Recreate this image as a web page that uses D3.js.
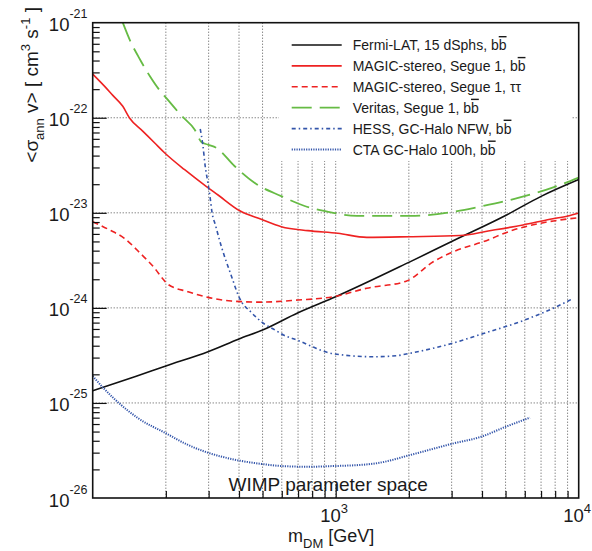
<!DOCTYPE html>
<html><head><meta charset="utf-8">
<script src="https://cdn.jsdelivr.net/npm/d3@7"></script>
<style>
html,body{margin:0;padding:0;background:#fff;}
svg{display:block;}
text{font-family:"Liberation Sans",Arial,Helvetica,sans-serif;fill:#1a1a1a;}
</style></head>
<body>
<svg id="c" width="592" height="551"></svg>
<script>
// ---- data ----
const fermiMass  = [100,150,200,300,400,500,700,1000,2000,3000,5000,7000,10000];
const fermiSigma = [1.34e-25,1.90e-25,2.45e-25,3.48e-25,4.71e-25,5.85e-25,8.9e-25,1.31e-24,3.01e-24,4.99e-24,9.37e-24,1.49e-23,2.24e-23];

const magicBbMass  = [100,112,121,133,142,161,180,198,239,293,328,403,494,597,769,1021,1342,2023,3250,4240,5900,7620,9040,10000];
const magicBbSigma = [2.88e-22,2.14e-22,1.72e-22,1.32e-22,9.9e-23,7.2e-23,5.42e-23,4.26e-23,2.84e-23,1.90e-23,1.54e-23,1.05e-23,8.55e-24,7.15e-24,6.49e-24,6.09e-24,5.52e-24,5.61e-24,5.77e-24,6.44e-24,7.45e-24,8.55e-24,9.27e-24,9.95e-24];

const magicTauMass  = [100,116,135,158,180,195,204,247,298,372,494,700,977,1342,1960,2520,3050,4050,5380,7150,10000];
const magicTauSigma = [8.07e-24,6.71e-24,5.39e-24,3.69e-24,2.61e-24,2.00e-24,1.77e-24,1.48e-24,1.29e-24,1.18e-24,1.15e-24,1.21e-24,1.31e-24,1.61e-24,1.92e-24,3.06e-24,3.90e-24,4.97e-24,6.59e-24,7.87e-24,8.89e-24];

const veritasMass  = [133,144,154,158,172,189,201,232,263,280,298,323,384,471,597,745,977,1220,2023,2950,4050,5730,7860,10000];
const veritasSigma = [1.0e-21,6.11e-22,4.43e-22,3.93e-22,2.73e-22,1.93e-22,1.61e-22,1.05e-22,7.49e-23,5.56e-23,5.21e-23,4.81e-23,3.09e-23,2.01e-23,1.50e-23,1.18e-23,1.00e-23,9.27e-24,9.27e-24,1.01e-23,1.18e-23,1.45e-23,1.85e-23,2.35e-23];

const hessMass  = [277,284,290,298,304,310,319,337,373,400,452,504,563,609,700,809,873,994,1430,1780,2020,2950,4050,6110,8110,9500];
const hessSigma = [7.62e-23,5.17e-23,3.18e-23,2.06e-23,1.47e-23,9.95e-24,7.63e-24,4.59e-24,2.13e-24,1.30e-24,8.83e-25,6.89e-25,5.85e-25,5.19e-25,4.54e-25,3.87e-25,3.56e-25,3.27e-25,3.06e-25,3.14e-25,3.33e-25,4.17e-25,5.37e-25,7.59e-25,1.03e-24,1.26e-24];

const ctaMass  = [100,112,131,154,200,247,298,403,497,597,769,990,1110,1520,2023,2950,4050,4900,6300];
const ctaSigma = [1.92e-25,1.39e-25,9.5e-26,6.89e-26,4.80e-26,3.61e-26,3.00e-26,2.47e-26,2.28e-26,2.17e-26,2.13e-26,2.17e-26,2.19e-26,2.35e-26,2.83e-26,3.67e-26,4.49e-26,5.49e-26,7.00e-26];

const seriesNames = ["Fermi-LAT, 15 dSphs, ", "MAGIC-stereo, Segue 1, ", "MAGIC-stereo, Segue 1, ", "Veritas, Segue 1, ", "HESS, GC-Halo NFW, ", "CTA GC-Halo 100h, "];
const seriesChannel = ["bb","bb","ττ","bb","bb","bb"];
const xDecades = [100,1000,10000];
const yDecades = [1e-26,1e-25,1e-24,1e-23,1e-22,1e-21];
const xTickLabelExp = ["3","4"];
const yTickLabelExp = ["-26","-25","-24","-23","-22","-21"];

// ---- layout ----
const L=92.7, R=578.7, T=22.7, B=498;
const svg = d3.select("#c");
const x = d3.scaleLog().domain([100,1e4]).range([L,R]);
const y = d3.scaleLog().domain([1e-26,1e-21]).range([B,T]);

const xMinor=[], yMinor=[];
[100,1000].forEach(d=>{for(let k=2;k<=9;k++) xMinor.push(k*d);});
[1e-26,1e-25,1e-24,1e-23,1e-22].forEach(d=>{for(let k=2;k<=9;k++) yMinor.push(k*d);});

svg.append("defs").append("clipPath").attr("id","clip")
  .append("rect").attr("x",L).attr("y",T).attr("width",R-L).attr("height",B-T);

// grid
const grid = svg.append("g").attr("stroke","#555").attr("stroke-width",1).attr("stroke-dasharray","1,2");
xMinor.concat([1000]).forEach(v=>{
  grid.append("line").attr("x1",x(v)).attr("x2",x(v)).attr("y1",T).attr("y2",B);
});
[1e-25,1e-24,1e-23,1e-22].forEach(v=>{
  grid.append("line").attr("x1",L).attr("x2",R).attr("y1",y(v)).attr("y2",y(v));
});

// legend background (covers grid)
const legX=279, legY=23, legW=292, legH=138;
svg.append("rect").attr("x",legX).attr("y",legY).attr("width",legW).attr("height",legH).attr("fill","#fff");

// curves
const styles = [
  {c:"#111111", w:1.6, d:null},
  {c:"#ee2222", w:1.6, d:null},
  {c:"#ee2222", w:1.6, d:"6,4"},
  {c:"#66bb44", w:1.8, d:"20,8"},
  {c:"#3355aa", w:1.6, d:"4,3,1.5,3"},
  {c:"#3355aa", w:2.0, d:"1.2,1.2"}
];
const sets = [[fermiMass,fermiSigma],[magicBbMass,magicBbSigma],[magicTauMass,magicTauSigma],[veritasMass,veritasSigma],[hessMass,hessSigma],[ctaMass,ctaSigma]];
const line = d3.line().x(d=>x(d[0])).y(d=>y(d[1])).curve(d3.curveMonotoneX);
const cg = svg.append("g").attr("clip-path","url(#clip)");
sets.forEach((s,i)=>{
  const pts = s[0].map((m,j)=>[m,s[1][j]]);
  cg.append("path").attr("d",line(pts)).attr("fill","none")
    .attr("stroke",styles[i].c).attr("stroke-width",styles[i].w)
    .attr("stroke-dasharray",styles[i].d).attr("stroke-linejoin","round");
});

// axes ticks (inward)
function tickAxis(gen, vals, size){
  return gen.tickValues(vals).tickSize(size).tickFormat("");
}
const axG = svg.append("g");
axG.append("g").attr("transform",`translate(0,${B})`).call(tickAxis(d3.axisBottom(x),xMinor,-7));
axG.append("g").attr("transform",`translate(0,${B})`).call(tickAxis(d3.axisBottom(x),[1000],-14));
axG.append("g").attr("transform",`translate(${L},0)`).call(tickAxis(d3.axisLeft(y),yMinor,-7));
axG.append("g").attr("transform",`translate(${L},0)`).call(tickAxis(d3.axisLeft(y),yDecades.slice(1,5),-14));
axG.selectAll(".domain").remove();
axG.selectAll(".tick line").attr("stroke","#111").attr("stroke-width",1.2);

// frame
svg.append("rect").attr("x",L).attr("y",T).attr("width",R-L).attr("height",B-T)
  .attr("fill","none").attr("stroke","#111").attr("stroke-width",1.6);

// y tick labels
yDecades.forEach((v,i)=>{
  const t = svg.append("text").attr("x",87.5).attr("y",y(v)+8.5).attr("text-anchor","end").attr("font-size",18.5);
  t.append("tspan").text("10");
  t.append("tspan").attr("font-size",12.5).attr("dy",-13).text(yTickLabelExp[i]);
});
// x tick labels
[1000,10000].forEach((v,i)=>{
  const t = svg.append("text").attr("x",x(v)-15.5).attr("y",522).attr("font-size",18.5);
  t.append("tspan").text("10");
  t.append("tspan").attr("font-size",13).attr("dy",-9).text(xTickLabelExp[i]);
});

// axis titles
const xt = svg.append("text").attr("x",288).attr("y",542).attr("font-size",18);
xt.append("tspan").text("m");
xt.append("tspan").attr("font-size",13).attr("dy",6).text("DM");
xt.append("tspan").attr("dy",-6).text(" [GeV]");

const yt = svg.append("text").attr("transform","translate(38,7) rotate(-90)").attr("text-anchor","end").attr("font-size",19);
yt.append("tspan").text("<σ");
yt.append("tspan").attr("font-size",13).attr("dy",6).text("ann");
yt.append("tspan").attr("dy",-6).text(" v> [ cm");
yt.append("tspan").attr("font-size",13).attr("dy",-8).text("3");
yt.append("tspan").attr("dy",8).text(" s");
yt.append("tspan").attr("font-size",13).attr("dy",-8).text("-1");
yt.append("tspan").attr("dy",8).text(" ]");

// WIMP label
svg.append("text").attr("x",228.5).attr("y",491).attr("font-size",19).text("WIMP parameter space");

// legend entries
const rowY0 = 45, rowStep = 20.9;
seriesNames.forEach((n,i)=>{
  const cy = rowY0 + i*rowStep;
  svg.append("line").attr("x1",291.7).attr("x2",341.7).attr("y1",cy).attr("y2",cy)
    .attr("stroke",styles[i].c).attr("stroke-width",styles[i].w).attr("stroke-dasharray",styles[i].d);
  const t = svg.append("text").attr("x",352.7).attr("y",cy+5).attr("font-size",14);
  t.append("tspan").text(n);
  if(seriesChannel[i]==="bb"){
    t.append("tspan").text("b");
    t.append("tspan").style("text-decoration","overline").text("b");
  } else {
    t.append("tspan").text(seriesChannel[i]);
  }
});
</script>
</body></html>
